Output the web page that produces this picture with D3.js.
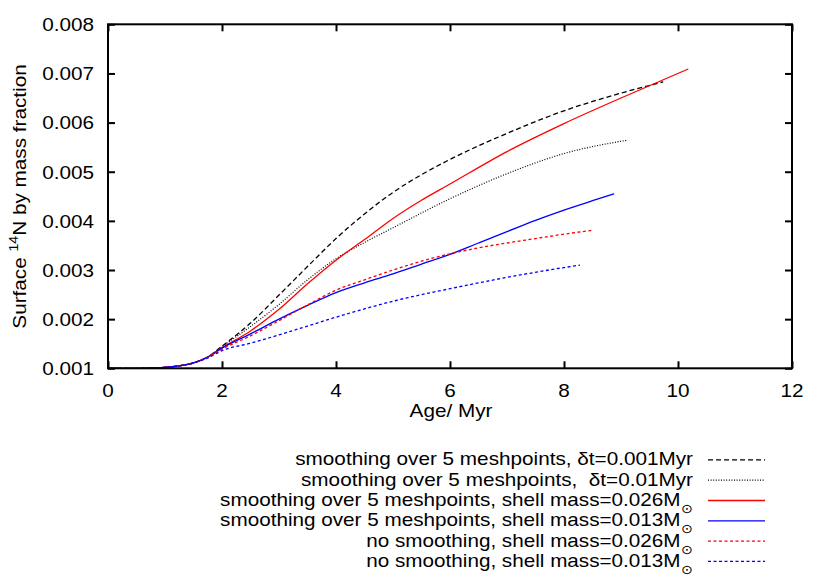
<!DOCTYPE html>
<html>
<head>
<meta charset="utf-8">
<script src="https://cdn.jsdelivr.net/npm/d3@7"></script>
<style>
  html, body { margin: 0; padding: 0; background: #fff; }
  svg text { font-family: "Liberation Sans", Arial, Helvetica, sans-serif; fill: #000; }
</style>
</head>
<body>
<svg id="chart" width="830" height="581"></svg>
<script>
// ---- Data ----
const xTicks = [0, 2, 4, 6, 8, 10, 12];
const yTicks = [0.001, 0.002, 0.003, 0.004, 0.005, 0.006, 0.007, 0.008];

const ageDt001 = [0, 0.5, 1.0, 1.25, 1.5, 1.75, 2.0, 2.5, 3.0, 3.5, 4.0, 4.5, 5.0, 5.5, 6.0, 7.0, 8.0, 9.0, 9.74];
const n14Dt001 = [0.001, 0.001, 0.00102, 0.00105, 0.00111, 0.00123, 0.00145, 0.00192, 0.00249, 0.00307, 0.00364, 0.00414, 0.00458, 0.00494, 0.00525, 0.00578, 0.00624, 0.00660, 0.00683];

const ageDt01 = [0, 0.5, 1.0, 1.25, 1.5, 1.75, 2.0, 2.5, 3.0, 3.5, 4.0, 4.5, 5.0, 6.0, 7.0, 8.0, 9.1];
const n14Dt01 = [0.001, 0.001, 0.00102, 0.00105, 0.00111, 0.00123, 0.00144, 0.00185, 0.00230, 0.00280, 0.00323, 0.00356, 0.00386, 0.00445, 0.00496, 0.00537, 0.00564];

const ageShell026 = [0, 0.5, 1.0, 1.25, 1.5, 1.75, 2.0, 2.5, 3.0, 3.5, 4.0, 4.5, 5.0, 5.5, 6.0, 7.0, 8.0, 9.0, 10.18];
const n14Shell026 = [0.001, 0.001, 0.00102, 0.00105, 0.00111, 0.00123, 0.00142, 0.00176, 0.00220, 0.00272, 0.00320, 0.00362, 0.00405, 0.00442, 0.00475, 0.00541, 0.00598, 0.00650, 0.00709];

const ageShell013 = [0, 0.5, 1.0, 1.25, 1.5, 1.75, 2.0, 2.5, 3.0, 3.5, 4.0, 4.5, 5.0, 5.5, 6.0, 6.5, 7.0, 7.5, 8.0, 8.5, 8.88];
const n14Shell013 = [0.001, 0.001, 0.00102, 0.00105, 0.00111, 0.00123, 0.00141, 0.00170, 0.00200, 0.00228, 0.00254, 0.00274, 0.00292, 0.00312, 0.00332, 0.00355, 0.00378, 0.00401, 0.00422, 0.00441, 0.00455];

const ageNoSm026 = [0, 0.5, 1.0, 1.25, 1.5, 1.75, 2.0, 2.5, 3.0, 3.5, 4.0, 4.5, 5.0, 5.5, 6.0, 6.5, 7.0, 7.5, 8.0, 8.51];
const n14NoSm026 = [0.001, 0.001, 0.00102, 0.00105, 0.00111, 0.00123, 0.00139, 0.00166, 0.00197, 0.00229, 0.00259, 0.00280, 0.00300, 0.00318, 0.00333, 0.00345, 0.00355, 0.00364, 0.00373, 0.00381];

const ageNoSm013 = [0, 0.5, 1.0, 1.25, 1.5, 1.75, 2.0, 2.5, 3.0, 3.5, 4.0, 4.5, 5.0, 6.0, 7.0, 8.0, 8.28];
const n14NoSm013 = [0.001, 0.001, 0.00102, 0.00105, 0.00111, 0.00121, 0.00136, 0.00151, 0.00168, 0.00186, 0.00204, 0.00221, 0.002365, 0.00262, 0.00285, 0.00305, 0.00310];

const seriesLabels = [
  ["smoothing over 5 meshpoints, δt=0.001Myr", null],
  ["smoothing over 5 meshpoints,  δt=0.01Myr", null],
  ["smoothing over 5 meshpoints, shell mass=0.026M", "⊙"],
  ["smoothing over 5 meshpoints, shell mass=0.013M", "⊙"],
  ["no smoothing, shell mass=0.026M", "⊙"],
  ["no smoothing, shell mass=0.013M", "⊙"]
];

// ---- Styles ----
const styles = [
  { color: "#000000", dash: "5,3", width: 1.3 },
  { color: "#000000", dash: "1,1.6", width: 1.2 },
  { color: "#ff0000", dash: null, width: 1.3 },
  { color: "#0000ff", dash: null, width: 1.3 },
  { color: "#ff0000", dash: "3,2.5", width: 1.3 },
  { color: "#0000ff", dash: "3,2.5", width: 1.3 }
];
const seriesData = [
  [ageDt001, n14Dt001], [ageDt01, n14Dt01], [ageShell026, n14Shell026],
  [ageShell013, n14Shell013], [ageNoSm026, n14NoSm026], [ageNoSm013, n14NoSm013]
];

const FS = 19, STRETCH = 1.09;
const svg = d3.select("#chart");
const pL = 108, pR = 792, pT = 24.3, pB = 368.3;
const x = d3.scaleLinear().domain([0, 12]).range([pL, pR]);
const y = d3.scaleLinear().domain([0.001, 0.008]).range([pB, pT]);

function stretch(sel, anchorX, anchor) {
  sel.each(function () {
    const w = this.getComputedTextLength();
    const nw = w * STRETCH;
    this.setAttribute("textLength", nw);
    this.setAttribute("lengthAdjust", "spacingAndGlyphs");
    if (anchor === "end") this.setAttribute("x", anchorX - nw);
    else if (anchor === "middle") this.setAttribute("x", anchorX - nw / 2);
    else this.setAttribute("x", anchorX);
  });
}

// curves
const line = d3.line().x(d => x(d[0])).y(d => y(d[1])).curve(d3.curveMonotoneX);
const plot = svg.append("g");
seriesData.forEach((s, i) => {
  const pts = s[0].map((a, k) => [a, s[1][k]]);
  plot.append("path")
    .attr("d", line(pts))
    .attr("fill", "none")
    .attr("stroke", styles[i].color)
    .attr("stroke-width", styles[i].width)
    .attr("stroke-dasharray", styles[i].dash);
});

// axes (inward ticks, mirrored)
const tk = 7;
const axB = svg.append("g").attr("transform", `translate(0,${pB})`)
  .call(d3.axisBottom(x).tickValues(xTicks).tickSize(-tk).tickFormat(""));
const axT = svg.append("g").attr("transform", `translate(0,${pT})`)
  .call(d3.axisTop(x).tickValues(xTicks).tickSize(-tk).tickFormat(""));
const axL = svg.append("g").attr("transform", `translate(${pL},0)`)
  .call(d3.axisLeft(y).tickValues(yTicks).tickSize(-tk).tickFormat(""));
const axR = svg.append("g").attr("transform", `translate(${pR},0)`)
  .call(d3.axisRight(y).tickValues(yTicks).tickSize(-tk).tickFormat(""));
[axB, axT, axL, axR].forEach(g => {
  g.select(".domain").remove();
  g.selectAll(".tick line").attr("stroke", "#000").attr("stroke-width", 2);
});
svg.append("rect").attr("x", pL).attr("y", pT)
  .attr("width", pR - pL).attr("height", pB - pT)
  .attr("fill", "none").attr("stroke", "#000").attr("stroke-width", 2);

// tick labels
svg.append("g").selectAll("text").data(xTicks).join("text")
  .attr("y", pB + 29).style("font-size", FS + "px")
  .text(d => d)
  .each(function (d) { stretch(d3.select(this), x(d), "middle"); });
svg.append("g").selectAll("text").data(yTicks).join("text")
  .attr("y", d => y(d) + 6.8).style("font-size", FS + "px")
  .text(d => d3.format(".3f")(d))
  .each(function (d) { stretch(d3.select(this), 94, "end"); });

// axis titles
svg.append("text").attr("y", 416.5).style("font-size", FS + "px").text("Age/ Myr")
  .each(function () { stretch(d3.select(this), 451, "middle"); });

const yl = svg.append("text").attr("transform", "rotate(-90)").attr("y", 26)
  .style("font-size", FS + "px");
yl.append("tspan").text("Surface ");
yl.append("tspan").attr("dy", -8).style("font-size", "13px").text("14");
yl.append("tspan").attr("dy", 8).text("N by mass fraction");
stretch(yl, -196.5, "middle");

// legend
const legX = 693, legY0 = 465.4, legDy = 20.3;
seriesLabels.forEach((lab, i) => {
  const by = legY0 + i * legDy;
  const t = svg.append("text").attr("y", by).style("font-size", FS + "px")
    .style("white-space", "pre");
  t.append("tspan").text(lab[0]);
  if (lab[1]) {
    t.append("tspan").attr("dy", 7).attr("dx", 0.5).style("font-size", "13px")
      .style("font-family", "DejaVu Sans").text(lab[1]);
  }
  stretch(t, legX, "end");
  svg.append("line")
    .attr("x1", 708).attr("x2", 765).attr("y1", by - 5.5).attr("y2", by - 5.5)
    .attr("stroke", styles[i].color).attr("stroke-width", styles[i].width)
    .attr("stroke-dasharray", styles[i].dash);
});
</script>
</body>
</html>
